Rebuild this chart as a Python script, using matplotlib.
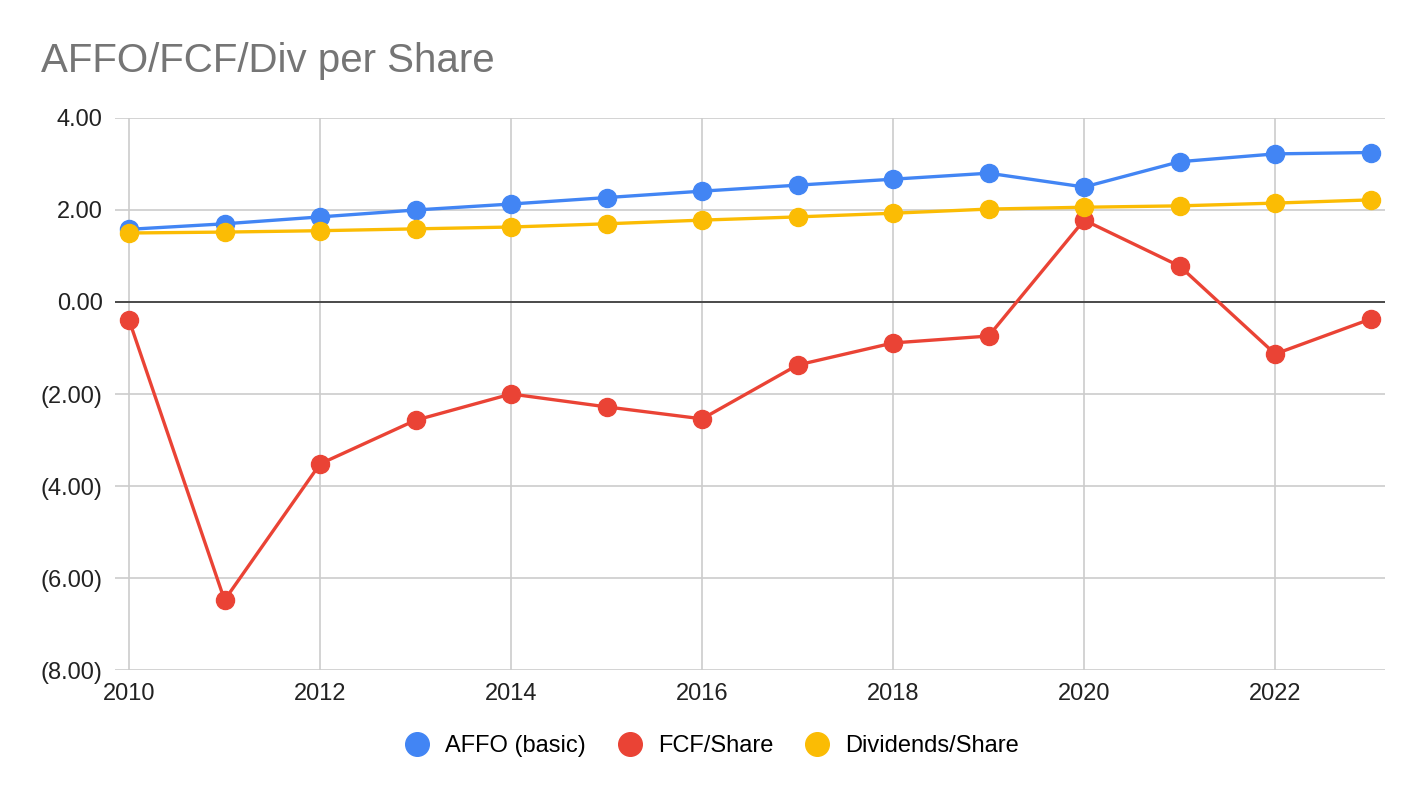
import matplotlib.pyplot as plt
from matplotlib.ticker import FuncFormatter

plt.rcParams['font.family'] = ['Liberation Sans', 'DejaVu Sans']

years = list(range(2010, 2024))
affo = [1.58, 1.70, 1.85, 2.00, 2.13, 2.27, 2.41, 2.54, 2.67, 2.80, 2.50, 3.05, 3.22, 3.25]
fcf = [-0.39, -6.48, -3.52, -2.57, -2.00, -2.28, -2.54, -1.37, -0.89, -0.74, 1.78, 0.78, -1.13, -0.37]
divs = [1.50, 1.52, 1.55, 1.59, 1.63, 1.70, 1.78, 1.85, 1.93, 2.02, 2.06, 2.09, 2.15, 2.22]

fig = plt.figure(figsize=(14.24, 7.98), dpi=100)
# plot box: x 115..1385 px, y 118..670 px
ax = fig.add_axes([115 / 1424, 1 - 670 / 798, 1270 / 1424, 552 / 798])

ax.plot(years, affo, color='#4285f4', lw=2.4, marker='o', ms=13, label='AFFO (basic)', zorder=3)
ax.plot(years, fcf, color='#ea4335', lw=2.4, marker='o', ms=13, label='FCF/Share', zorder=3)
ax.plot(years, divs, color='#fbbc04', lw=2.4, marker='o', ms=13, label='Dividends/Share', zorder=4)

ax.set_xlim(2009.853, 2023.15)
ax.set_ylim(-8, 4)
ax.set_xticks(range(2010, 2024, 2))
ax.set_yticks(range(-8, 5, 2))

def fmt(v, pos):
    if v < 0:
        return '({:.2f})'.format(-v)
    return '{:.2f}'.format(v)

ax.yaxis.set_major_formatter(FuncFormatter(fmt))
ax.grid(True, color='#cccccc', lw=1.2, zorder=0)
ax.axhline(0, color='#333333', lw=1.2, zorder=2)
for s in ax.spines.values():
    s.set_visible(False)
ax.tick_params(length=0, labelsize=17, colors='#222222')
ax.tick_params(axis='x', pad=9)
ax.tick_params(axis='y', pad=9)

fig.text(41 / 1424, 1 - 72 / 798, 'AFFO/FCF/Div per Share', fontsize=29, color='#757575', va='baseline')

# legend centred on the figure, not on the plot box
fig.legend(*ax.get_legend_handles_labels(), loc='center', bbox_to_anchor=(0.5, 1 - 746 / 798),
           ncol=3, frameon=False, fontsize=17, handlelength=1.0, handletextpad=0.7,
           columnspacing=1.36)
leg = fig.legends[0]
for h in leg.legend_handles:
    h.set_linestyle('none')
    h.set_markersize(17)

fig.savefig('out.png', dpi=100)
